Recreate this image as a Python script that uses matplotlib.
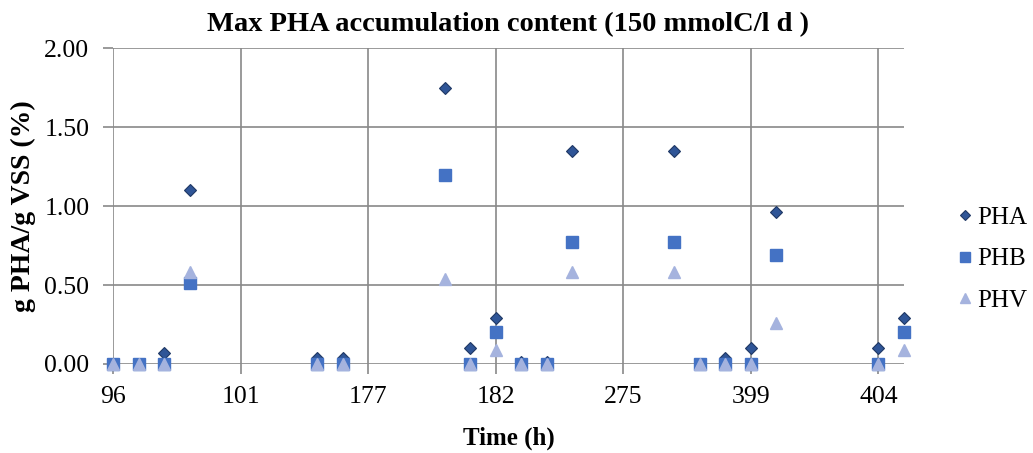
import numpy as np
import matplotlib.pyplot as plt

plt.rcParams['font.family'] = ['Liberation Serif', 'DejaVu Serif']

# category positions 0..31, only every 5th is labelled
n_cat = 32
tick_pos = [0, 5, 10, 15, 20, 25, 30]
tick_labels = ['96', '101', '177', '182', '275', '399', '404']

nan = np.nan
pha = [0, 0, 0.07, 1.10, nan, nan, nan, nan, 0.04, 0.04, nan, nan, nan, 1.75, 0.10, 0.29,
       0.01, 0.01, 1.35, nan, nan, nan, 1.35, 0, 0.04, 0.10, 0.96, nan, nan, nan, 0.10, 0.29]
phb = [0, 0, 0, 0.51, nan, nan, nan, nan, 0, 0, nan, nan, nan, 1.20, 0, 0.20,
       0, 0, 0.77, nan, nan, nan, 0.77, 0, 0, 0, 0.69, nan, nan, nan, 0, 0.20]
phv = [0, 0, 0, 0.58, nan, nan, nan, nan, 0, 0, nan, nan, nan, 0.54, 0, 0.09,
       0, 0, 0.58, nan, nan, nan, 0.58, 0, 0, 0, 0.26, nan, nan, nan, 0, 0.09]

x = np.arange(n_cat)

fig = plt.figure(figsize=(10.33, 4.53), dpi=100)
ax = fig.add_axes([0.1094, 0.1965, 0.7657, 0.6969])

ax.plot(x, pha, 'D', ms=6, color='#2F5597', mec='#1F3864', mew=0.8, label='PHA', zorder=3, clip_on=False)
ax.plot(x, phb, 's', ms=8.5, color='#4472C4', mec='#4472C4', label='PHB', zorder=4, clip_on=False)
ax.plot(x, phv, '^', ms=9, color='#A5B3DE', mec='#A5B3DE', label='PHV', zorder=5, clip_on=False)

ax.set_xlim(0, n_cat - 1)
ax.set_ylim(0, 2.0)
ax.set_xticks(tick_pos)
ax.set_xticklabels(tick_labels)
ax.set_yticks([0, 0.5, 1.0, 1.5, 2.0])
ax.set_yticklabels(['0.00', '0.50', '1.00', '1.50', '2.00'])
ax.tick_params(axis='both', labelsize=18.5, color='#898989', length=7, width=1.2)
ax.tick_params(axis='x', pad=9)
ax.tick_params(axis='y', pad=10)

ax.grid(True, color='#898989', linewidth=1.2)
ax.set_axisbelow(True)
for s in ax.spines.values():
    s.set_visible(False)

ax.set_title('Max PHA accumulation content (150 mmolC/l d )', fontsize=20.5, fontweight='bold', pad=12)
ax.set_xlabel('Time (h)', fontsize=18, fontweight='bold', labelpad=13)
ax.set_ylabel('g PHA/g VSS (%)', fontsize=20, fontweight='bold', labelpad=6)

h, l = ax.get_legend_handles_labels()
leg = fig.legend(h, l, loc='center left', bbox_to_anchor=(955 / 1033, 0.428), frameon=False,
                 fontsize=18, handletextpad=0.1, labelspacing=0.75, handlelength=0.8,
                 borderpad=0, borderaxespad=0, markerscale=0.85)

plt.savefig('out.png', dpi=100)
